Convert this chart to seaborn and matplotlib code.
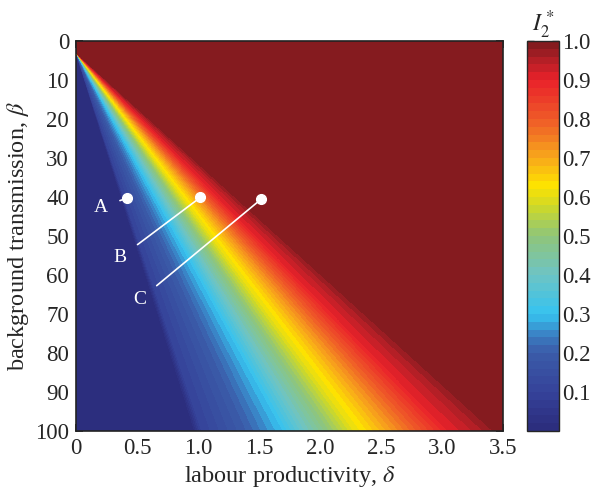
import numpy as np
import matplotlib
matplotlib.use("Agg")
import matplotlib.pyplot as plt
from matplotlib.colors import LinearSegmentedColormap
import seaborn as sns

sns.set_style("ticks")
plt.rcParams['font.family'] = ['Liberation Serif', 'DejaVu Serif']
plt.rcParams['mathtext.fontset'] = 'stix'

# I2* profile read along the bottom edge (beta = 100)
profile_delta = [0.0, 0.96, 1.03, 1.40, 1.70, 1.88, 2.08, 2.28, 2.42, 2.60, 2.80, 3.05, 3.30, 3.50]
profile_i2 = [0.0, 0.0, 0.10, 0.20, 0.30, 0.40, 0.50, 0.60, 0.65, 0.72, 0.80, 0.90, 0.95, 1.0]
apex_beta = 3.0      # where all contour lines meet on the delta = 0 axis

# marked parameter sets
point_names = ['A', 'B', 'C']
point_delta = [0.42, 1.02, 1.52]
point_beta = [40.3, 40.1, 40.5]
label_delta = [0.20, 0.36, 0.52]
label_beta = [42.6, 55.6, 66.4]

x_ticks = [0, 0.5, 1.0, 1.5, 2.0, 2.5, 3.0, 3.5]
x_ticklabels = ['0', '0.5', '1.0', '1.5', '2.0', '2.5', '3.0', '3.5']
y_ticks = list(range(0, 101, 10))
cbar_ticks = [0.1, 0.2, 0.3, 0.4, 0.5, 0.6, 0.7, 0.8, 0.9, 1.0]
cbar_ticklabels = ['0.1', '0.2', '0.3', '0.4', '0.5', '0.6', '0.7', '0.8', '0.9', '1.0']

cmap_stops = [(0.0, '#2b2c7c'), (0.1, '#35429a'), (0.2, '#3b5ca9'),
              (0.25, '#3a84c6'), (0.3, '#36c3f0'), (0.4, '#6ec4c4'),
              (0.5, '#8fc57a'), (0.57, '#c9d72e'), (0.63, '#fde300'),
              (0.7, '#f8a81b'), (0.8, '#ef5b28'), (0.9, '#e9212a'),
              (0.95, '#b81f27'), (1.0, '#7b1a1e')]
cmap = LinearSegmentedColormap.from_list('i2', cmap_stops)

# build field: every contour is a straight line through the apex
delta = np.linspace(0, 3.5, 701)
beta = np.linspace(0, 100, 501)
D, B = np.meshgrid(delta, beta)
with np.errstate(divide='ignore', invalid='ignore'):
    equiv = np.where(B > apex_beta, D * (100 - apex_beta) / (B - apex_beta), np.inf)
I2 = np.interp(np.where(np.isfinite(equiv), equiv, 99), profile_delta, profile_i2)

fig = plt.figure(figsize=(5.97, 4.92), dpi=100)
ax = fig.add_axes([0.1273, 0.124, 0.7152, 0.7927])
cax = fig.add_axes([0.8827, 0.124, 0.0536, 0.7927])

levels = np.linspace(0, 1, 51)
cf = ax.contourf(D, B, I2, levels=levels, cmap=cmap, vmin=0, vmax=1)

for name, d, b, ld, lb in zip(point_names, point_delta, point_beta, label_delta, label_beta):
    ax.annotate(name, xy=(d, b), xytext=(ld, lb), color='white', fontsize=14,
                ha='center', va='center',
                arrowprops=dict(arrowstyle='-', color='white', lw=1.2,
                                shrinkA=7, shrinkB=0))
ax.plot(point_delta, point_beta, 'o', color='white', markersize=7, zorder=5)

ax.set_xlim(0, 3.5)
ax.set_ylim(100, 0)
ax.set_xticks(x_ticks)
ax.set_xticklabels(x_ticklabels)
ax.set_yticks(y_ticks)
ax.tick_params(direction='in', top=True, right=True, labelsize=16.5, length=5, width=1.2,
               color='#222222', pad=5)
for s in ax.spines.values():
    s.set_linewidth(1.2)
    s.set_color('#222222')
ax.set_xlabel(r'labour productivity, $\delta$', fontsize=17.5, labelpad=4)
ax.set_ylabel(r'background transmission, $\beta$', fontsize=17.5, labelpad=3)

cb = fig.colorbar(cf, cax=cax, ticks=cbar_ticks)
cb.ax.set_yticklabels(cbar_ticklabels)
cb.ax.tick_params(direction='in', left=True, right=True, labelsize=16.5, length=5, width=1.0,
                  pad=2)
cb.outline.set_linewidth(1.0)
cax.set_title(r'$I_2^*$', fontsize=17, pad=3)

fig.savefig('out.png', dpi=100)
